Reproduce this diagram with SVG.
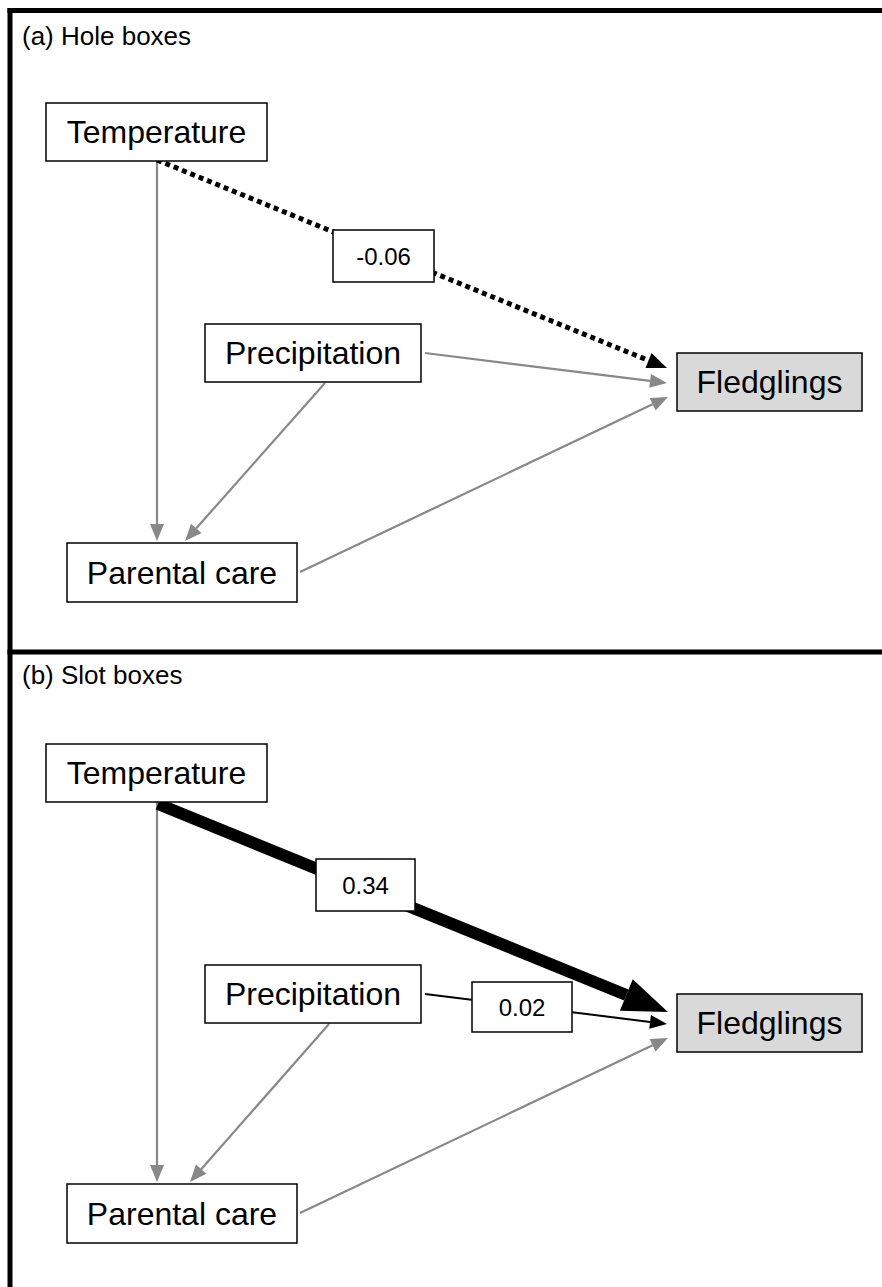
<svg xmlns="http://www.w3.org/2000/svg" width="882" height="1287" viewBox="0 0 882 1287">
<style>
  .frame { stroke: #000; stroke-width: 5; fill: none; }
  .title { font-family: "Liberation Sans", Arial, sans-serif; font-size: 26px; fill: #000; }
  .node rect { fill: #fff; stroke: #000; stroke-width: 1.5; }
  .node.out rect { fill: #d9d9d9; }
  .node text { font-family: "Liberation Sans", Arial, sans-serif; font-size: 32px; fill: #000; text-anchor: middle; }
  .lab rect { fill: #fff; stroke: #000; stroke-width: 1.5; }
  .lab text { font-family: "Liberation Sans", Arial, sans-serif; font-size: 24px; fill: #000; text-anchor: middle; }
  .gray { stroke: #888; stroke-width: 2.2; fill: none; }
  .blk { stroke: #000; stroke-width: 2; fill: none; }
  .dot { stroke: #000; stroke-width: 5; stroke-dasharray: 5 4; fill: none; }
  .thick { stroke: #000; stroke-width: 12; fill: none; }
</style>
<defs>
  <marker id="hg" markerUnits="userSpaceOnUse" viewBox="0 -7 17 14" refX="0" refY="0" markerWidth="17" markerHeight="14" orient="auto" overflow="visible">
    <path d="M0,-7 L17,0 L0,7 z" fill="#888"/>
  </marker>
  <marker id="hb" markerUnits="userSpaceOnUse" viewBox="0 -7 17 14" refX="0" refY="0" markerWidth="17" markerHeight="14" orient="auto" overflow="visible">
    <path d="M0,-7 L17,0 L0,7 z" fill="#000"/>
  </marker>
  <marker id="hd" markerUnits="userSpaceOnUse" viewBox="0 -8 20 16" refX="0" refY="0" markerWidth="20" markerHeight="16" orient="auto" overflow="visible">
    <path d="M0,-8 L20,0 L0,8 z" fill="#000"/>
  </marker>
  <marker id="ht" markerUnits="userSpaceOnUse" viewBox="0 -17 45 34" refX="0" refY="0" markerWidth="45" markerHeight="34" orient="auto" overflow="visible">
    <path d="M0,-17 L45,0 L0,17 z" fill="#000"/>
  </marker>
</defs>

<g id="frames">
  <line class="frame" x1="7.5" y1="10.5" x2="882" y2="10.5"/>
  <line class="frame" x1="10" y1="8" x2="10" y2="1287"/>
  <line class="frame" x1="7.5" y1="652" x2="882" y2="652"/>
  <text class="title" x="22" y="45">(a) Hole boxes</text>
  <text class="title" x="22" y="684">(b) Slot boxes</text>
</g>

<g id="connectors">
  <!-- panel a -->
  <line class="gray" x1="157" y1="161" x2="157" y2="524" marker-end="url(#hg)"/>
  <line class="gray" x1="325" y1="383" x2="196.3" y2="528.3" marker-end="url(#hg)"/>
  <line class="gray" x1="425" y1="353" x2="650.1" y2="380.9" marker-end="url(#hg)"/>
  <line class="gray" x1="300" y1="572" x2="652.6" y2="404.3" marker-end="url(#hg)"/>
  <line class="dot" x1="157" y1="160" x2="648.5" y2="360.5" marker-end="url(#hd)"/>
  <!-- panel b -->
  <line class="gray" x1="157" y1="802" x2="157" y2="1165" marker-end="url(#hg)"/>
  <line class="gray" x1="329" y1="1024" x2="201.2" y2="1169.2" marker-end="url(#hg)"/>
  <line class="gray" x1="300" y1="1213" x2="652.6" y2="1045.3" marker-end="url(#hg)"/>
  <line class="blk" x1="425" y1="994" x2="650.1" y2="1021.9" marker-end="url(#hb)"/>
  <line class="thick" x1="158" y1="804" x2="626.3" y2="995" marker-end="url(#ht)"/>
</g>

<g id="a-temperature" class="node"><rect x="46" y="103" width="221" height="58"/><text x="156.5" y="143">Temperature</text></g>
<g id="a-precipitation" class="node"><rect x="205" y="324" width="216" height="58"/><text x="313" y="364">Precipitation</text></g>
<g id="a-fledglings" class="node out"><rect x="677" y="353" width="185" height="58"/><text x="769.5" y="393">Fledglings</text></g>
<g id="a-parental" class="node"><rect x="67" y="543" width="230" height="59"/><text x="182" y="584">Parental care</text></g>
<g id="a-label-temp-fledg" class="lab"><rect x="333" y="230" width="101" height="52"/><text x="383.5" y="264.5">-0.06</text></g>

<g id="b-temperature" class="node"><rect x="46" y="744" width="221" height="58"/><text x="156.5" y="784">Temperature</text></g>
<g id="b-precipitation" class="node"><rect x="205" y="965" width="216" height="58"/><text x="313" y="1005">Precipitation</text></g>
<g id="b-fledglings" class="node out"><rect x="677" y="994" width="185" height="58"/><text x="769.5" y="1034">Fledglings</text></g>
<g id="b-parental" class="node"><rect x="67" y="1184" width="230" height="59"/><text x="182" y="1225">Parental care</text></g>
<g id="b-label-temp-fledg" class="lab"><rect x="316" y="859" width="99" height="52"/><text x="365.5" y="893.5">0.34</text></g>
<g id="b-label-prec-fledg" class="lab"><rect x="472" y="982" width="100" height="50"/><text x="522" y="1015.5">0.02</text></g>
</svg>
